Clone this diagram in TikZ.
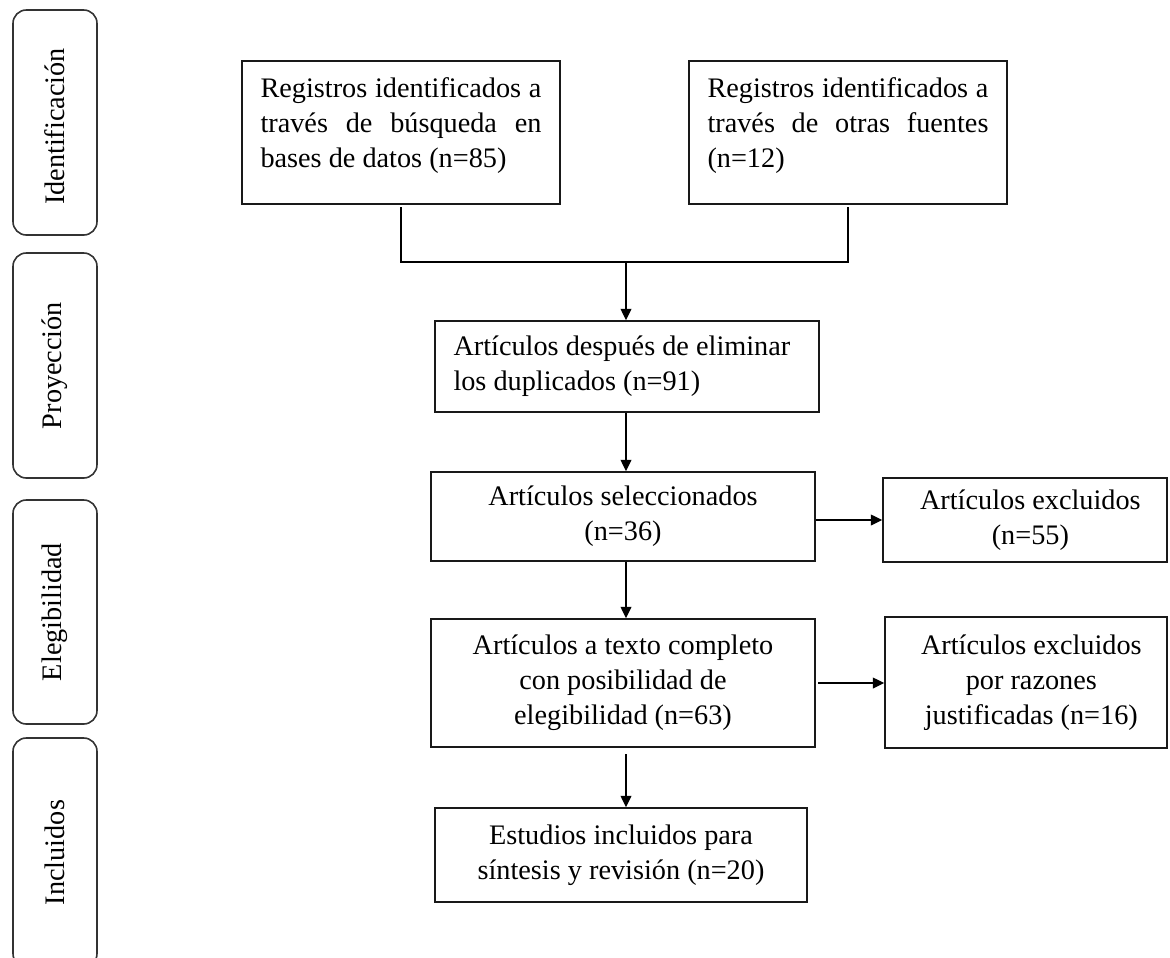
\documentclass[tikz,border=0pt]{standalone}
\usepackage{fontspec}
\setmainfont{Liberation Serif}
\usetikzlibrary{arrows.meta,calc}
\begin{document}
\begin{tikzpicture}[x=0.75pt,y=-0.75pt,
  every node/.style={font=\fontsize{21.2pt}{26.25pt}\selectfont},
  tbox/.style={draw=black!90, line width=1.1pt, inner sep=0pt},
  cbox/.style={tbox, align=center},
  phasebox/.style={draw=black!80, line width=1.2pt, rounded corners=10pt, minimum width=63pt, inner sep=0pt},
  conn/.style={line width=1pt, draw=black},
  arr/.style={conn, -{Triangle[length=8.5pt,width=8pt]}}]
\useasboundingbox (0,0) rectangle (1170,957);
\clip (0,0) rectangle (1170,957);

% phase labels
\node[phasebox, minimum height=168.75pt] (p1) at (55,122.5) {\rotatebox{90}{Identificación\kern6pt}};
\node[phasebox, minimum height=168.75pt] (p2) at (55,365.5) {\rotatebox{90}{Proyección}};
\node[phasebox, minimum height=168pt] (p3) at (55,612) {\rotatebox{90}{Elegibilidad}};
\node[phasebox, minimum height=171.75pt] (p4) at (55,852.5) {\rotatebox{90}{Incluidos}};

% boxes
\node[tbox, minimum width=238.5pt] (b1) at (401,132.5)
  {\parbox[c][107.25pt][t]{210.75pt}{\rule{0pt}{27pt}\makebox[210.75pt][s]{Registros identificados a}\\\makebox[210.75pt][s]{través de búsqueda en}\\bases de datos (n=85)}};
\node[tbox, minimum width=238.5pt] (b2) at (848,132.5)
  {\parbox[c][107.25pt][t]{210.75pt}{\rule{0pt}{27pt}\makebox[210.75pt][s]{Registros identificados a}\\\makebox[210.75pt][s]{través de otras fuentes}\\(n=12)}};
\node[tbox, minimum width=288pt] (b3) at (627,366.5)
  {\parbox[c][68.25pt][t]{260.25pt}{\rule{0pt}{25.5pt}Artículos después de eliminar\\los duplicados (n=91)}};
\node[cbox, minimum width=288pt, minimum height=66.75pt] (b4) at (623,516.5) {Artículos seleccionados\\(n=36)};
\node[cbox, minimum width=213pt, minimum height=63pt] (b5) at (1025,520) {\hspace*{8pt}Artículos excluidos\\\hspace*{8pt}(n=55)};
\node[cbox, minimum width=288pt, minimum height=96pt] (b6) at (623,683) {Artículos a texto completo\\con posibilidad de\\elegibilidad (n=63)};
\node[cbox, minimum width=211.5pt, minimum height=98.25pt] (b7) at (1026,682.5) {\hspace*{8pt}Artículos excluidos\\\hspace*{8pt}por razones\\\hspace*{8pt}justificadas (n=16)};
\node[cbox, minimum width=279pt, minimum height=70.5pt] (b8) at (621,855) {Estudios incluidos para\\síntesis y revisión (n=20)};

% connectors
\coordinate (jc) at (626,262);
\draw[conn, shorten <=2pt, shorten >=2pt] (b1.south) -- (b1.south |- jc) -- (b2.south |- jc) -- (b2.south);
\draw[arr] (jc) -- (jc |- b3.north);
\draw[arr] (b3.south -| jc) -- (jc |- b4.north);
\draw[arr] (b4.south -| jc) -- (jc |- b6.north);
\draw[arr, shorten <=5pt] (b6.south -| jc) -- (jc |- b8.north);
\draw[arr] (b4.east |- b5.west) -- (b5.west);
\draw[arr, shorten <=2pt] (b6.east) -- (b6.east -| b7.west);
\end{tikzpicture}
\end{document}
